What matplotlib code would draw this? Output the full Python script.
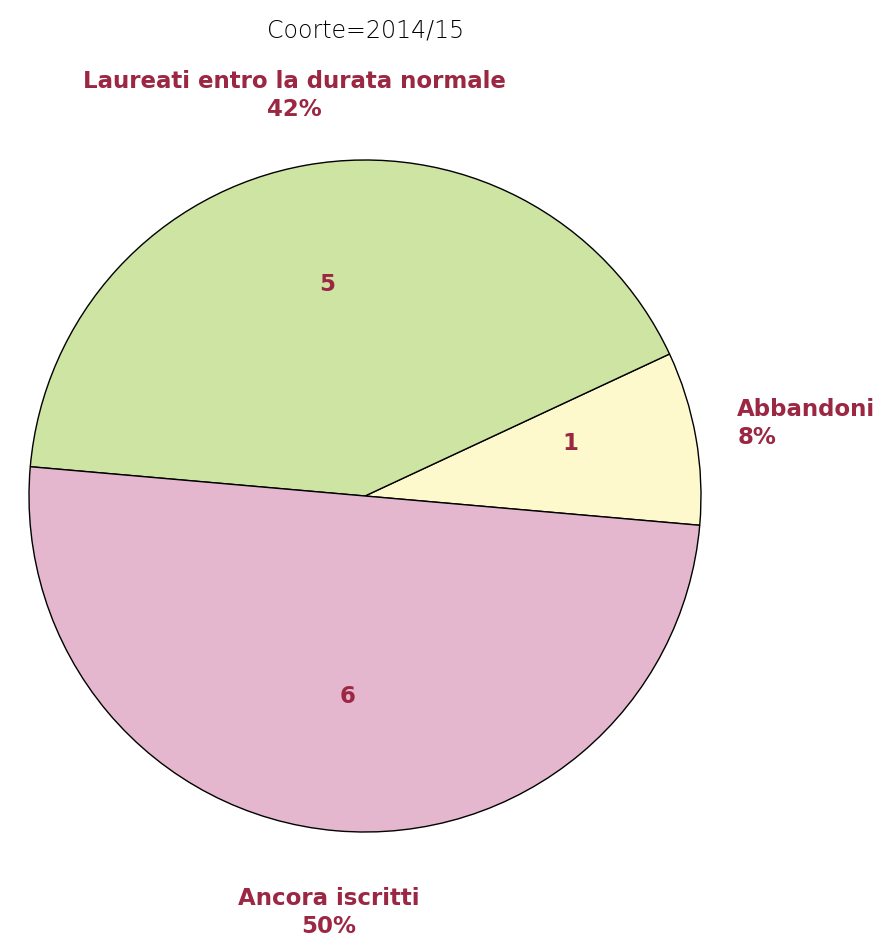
import numpy as np
import matplotlib
matplotlib.use('Agg')
import matplotlib.pyplot as plt

# data
categories = ['Abbandoni', 'Laureati entro la durata normale', 'Ancora iscritti']
counts = [1, 5, 6]
percent_labels = ['8%', '42%', '50%']
colors = ['#fdf9cd', '#cde4a3', '#e5b7ce']
text_color = '#9b2743'

fig = plt.figure(figsize=(8.9, 9.44), dpi=100)
fig.patch.set_facecolor('white')

# pie centre (365, 496) px, radius 336 px
cx, cy, r = 365, 496, 336
W, H = 890, 944
ax = fig.add_axes([(cx - r) / W, (H - cy - r) / H, 2 * r / W, 2 * r / H])

wedges, _ = ax.pie(counts, colors=colors, startangle=-5, counterclock=True,
                   radius=1, wedgeprops=dict(edgecolor='black', linewidth=1))
ax.set_xlim(-1, 1)
ax.set_ylim(-1, 1)
ax.axis('off')

# label placement tweaks (radial distance, vertical shift)
inner_dist = [0.62, 0.64, 0.60]
inner_dy = [0.05, 0.0, 0.0]
outer_dist = [1.125, 1.21, 1.23]
outer_dy = [0.02, 0.0, -0.015]

for i, (w, cat, n, pct) in enumerate(zip(wedges, categories, counts, percent_labels)):
    mid = np.deg2rad((w.theta1 + w.theta2) / 2)
    x, y = np.cos(mid), np.sin(mid)
    ax.text(inner_dist[i] * x, inner_dist[i] * y + inner_dy[i], str(n),
            ha='center', va='center', fontsize=16.5, fontweight='bold', color=text_color)
    ha = 'left' if x > 0.5 else 'center'
    ax.text(outer_dist[i] * x, outer_dist[i] * y + outer_dy[i], cat + '\n' + pct,
            ha=ha, va='center', fontsize=16.5, fontweight='bold',
            color=text_color, linespacing=1.3)

fig.text(366 / W, 1 - 31 / H, 'Coorte=2014/15', ha='center', va='center',
         fontsize=17, fontweight='light', color='black')

fig.savefig('out.png', dpi=100, facecolor='white')
